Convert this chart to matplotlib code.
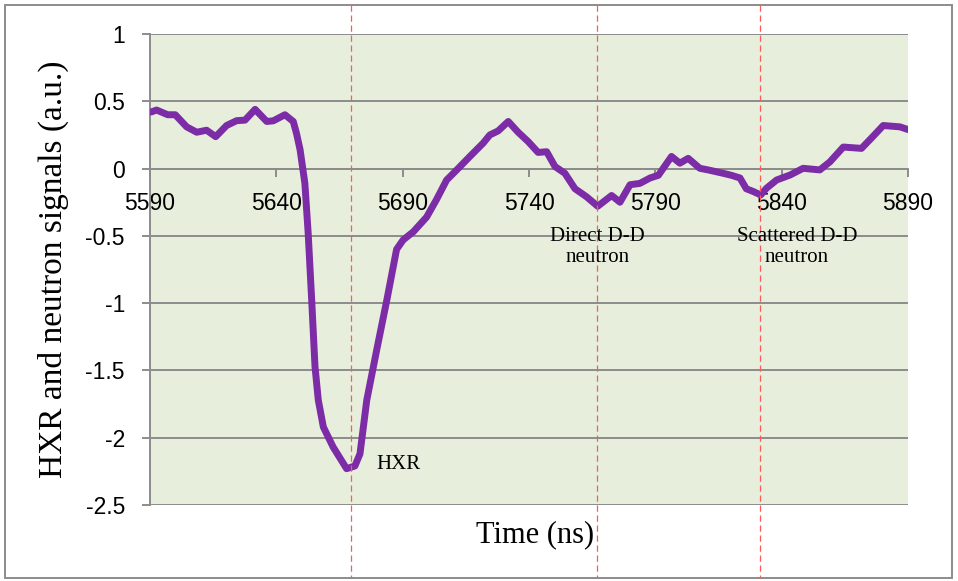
import matplotlib
matplotlib.use("Agg")
import matplotlib.pyplot as plt
import matplotlib.transforms as mtransforms
from matplotlib.patches import Rectangle

# signal trace (time in ns, signal in a.u.)
t = [5590.4, 5592.6, 5597, 5600, 5604.5, 5608.5, 5612.4, 5616, 5620.3, 5624.3,
     5627.6, 5631.6, 5636.2, 5638.8, 5643.4, 5646.7, 5648, 5649.4, 5651.3, 5652.6,
     5654, 5655.3, 5656.6, 5658.6, 5662.5, 5667.8, 5671.1, 5673.1, 5675.8, 5679.7,
     5683.7, 5687.6, 5690.2, 5694.2, 5699.5, 5703.4, 5707.4, 5711.4, 5716.6, 5721.9,
     5724.5, 5727.8, 5731.8, 5735.7, 5739.7, 5743.6, 5747, 5750.3, 5754.2, 5758.2,
     5762.8, 5767.2, 5772.7, 5776, 5780, 5783.9, 5787.9, 5791.2, 5796.4, 5799.7,
     5803, 5807.6, 5810.9, 5816.8, 5820.1, 5823.5, 5826, 5828.7, 5831.7, 5834,
     5838, 5843.3, 5848.5, 5855.1, 5859.1, 5864.4, 5871.6, 5876.2, 5880.2, 5886.8,
     5890]
v = [0.42, 0.435, 0.40, 0.40, 0.31, 0.27, 0.285, 0.237, 0.32, 0.356,
     0.36, 0.44, 0.35, 0.355, 0.40, 0.35, 0.26, 0.14, -0.11, -0.48,
     -0.98, -1.47, -1.72, -1.92, -2.07, -2.23, -2.21, -2.12, -1.72, -1.35,
     -0.98, -0.60, -0.53, -0.47, -0.36, -0.23, -0.085, -0.01, 0.09, 0.19,
     0.25, 0.28, 0.35, 0.27, 0.20, 0.12, 0.125, 0.015, -0.035, -0.15,
     -0.21, -0.28, -0.20, -0.25, -0.12, -0.11, -0.07, -0.05, 0.09, 0.04,
     0.076, 0.002, -0.01, -0.035, -0.05, -0.07, -0.15, -0.17, -0.196, -0.146,
     -0.085, -0.048, 0.002, -0.01, 0.05, 0.16, 0.15, 0.24, 0.32, 0.31,
     0.29]

x_ticks = [5590, 5640, 5690, 5740, 5790, 5840, 5890]
y_ticks = [1, 0.5, 0, -0.5, -1, -1.5, -2, -2.5]
y_tick_labels = ["1", "0.5", "0", "-0.5", "-1", "-1.5", "-2", "-2.5"]

# event markers (vertical dashed lines) and their labels
marker_times = [5669.5, 5767, 5831.5]
labels = ["HXR", "Direct D-D\nneutron", "Scattered D-D\nneutron"]
label_pos = [(5679.4, -2.2), (5767, -0.58), (5846, -0.58)]
label_ha = ["left", "center", "center"]

plt.rcParams["axes.unicode_minus"] = False

fig = plt.figure(figsize=(9.58, 5.81), dpi=100)
ax = fig.add_axes([150 / 958, 76 / 581, 758 / 958, 471 / 581])
ax.set_facecolor("#E8EEDC")

grey = "#8C8C8C"
ax.set_xlim(5590, 5890)
ax.set_ylim(-2.5, 1)
ax.set_yticks(y_ticks)
ax.set_yticklabels(y_tick_labels)
ax.set_xticks(x_ticks)
ax.yaxis.grid(True, color=grey, linewidth=1.4)
ax.set_axisbelow(True)

for side in ["top", "right"]:
    ax.spines[side].set_visible(False)
ax.spines["left"].set_color(grey)
ax.spines["left"].set_linewidth(1.4)
ax.spines["bottom"].set_position(("data", 0))
ax.spines["bottom"].set_color(grey)
ax.spines["bottom"].set_linewidth(1.4)

ax.tick_params(axis="y", length=6, width=1.4, color=grey, pad=12,
               labelsize=16.5, labelfontfamily="Liberation Sans")
ax.tick_params(axis="x", length=6, width=1.4, color=grey, pad=11,
               labelsize=16.5, labelfontfamily="Liberation Sans", direction="out")

ax.plot(t, v, color="#7B2CA6", linewidth=5, solid_capstyle="round",
        solid_joinstyle="round", zorder=3)

# dashed markers span the whole figure height
trans = mtransforms.blended_transform_factory(ax.transData, fig.transFigure)
for mt in marker_times:
    ax.plot([mt, mt], [1 - 5 / 581, 1 - 578 / 581], transform=trans,
            color="#FF5A5A", linewidth=0.9, linestyle=(0, (5, 3)),
            clip_on=False, zorder=4)

for lab, (lx, ly), ha in zip(labels, label_pos, label_ha):
    ax.text(lx, ly, lab, ha=ha, va="center", fontsize=15,
            family="Liberation Serif", linespacing=1.15, zorder=5)

ax.set_ylabel("HXR and neutron signals (a.u.)", fontsize=24,
              family="Liberation Serif", labelpad=12)
fig.text(535 / 958, 1 - 535 / 581, "Time (ns)", ha="center", va="center",
         fontsize=22, family="Liberation Serif")

fig.patches.append(Rectangle((5 / 958, 3 / 581), 947 / 958, 573 / 581,
                             transform=fig.transFigure, fill=False,
                             edgecolor=grey, linewidth=1.4))

fig.savefig("out.png", dpi=100)
